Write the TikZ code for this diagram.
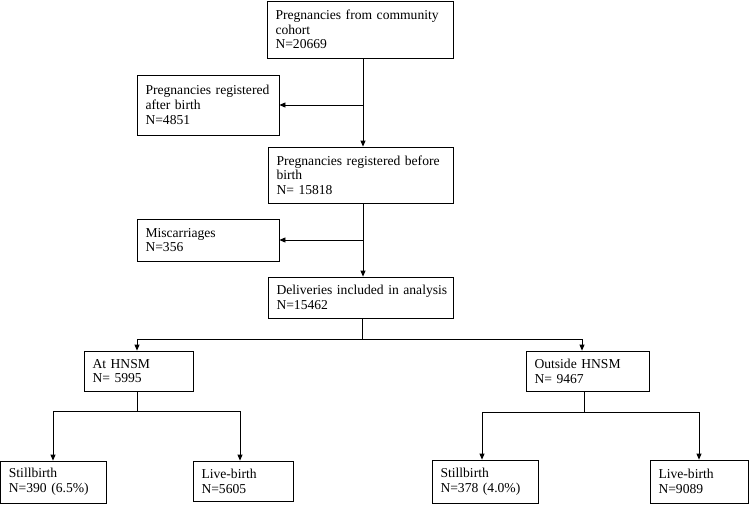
\documentclass[tikz,border=0pt]{standalone}
\usepackage{fontspec}
\setmainfont{Liberation Serif}
\usetikzlibrary{arrows.meta}
\newcommand{\oneline}[1]{\mbox{#1}}
\begin{document}
\begin{tikzpicture}[x=1pt,y=-1pt,
  box/.style={draw, line width=0.8pt, rectangle, inner xsep=8.5pt, inner ysep=0pt,
    align=left, font=\fontsize{13.6}{14.7}\selectfont},
  conn/.style={line width=0.8pt},
  arr/.style={conn, -{Triangle[length=6pt,width=5pt]}}]
\useasboundingbox (0,0) rectangle (750,504);

\node[box, minimum width=186, minimum height=57, text width=169] (top) at (360,29.5)
  {\oneline{Pregnancies from community}\\cohort\\N=20669};
\node[box, minimum width=142, minimum height=60, text width=125] (after) at (208,105)
  {\oneline{Pregnancies registered}\\after birth\\N=4851};
\node[box, minimum width=185, minimum height=56, text width=168] (before) at (360.5,175)
  {\oneline{Pregnancies registered before}\\birth\\N= 15818};
\node[box, minimum width=142, minimum height=42, text width=125] (misc) at (208,240)
  {Miscarriages\\N=356};
\node[box, minimum width=185, minimum height=41, text width=168] (deliv) at (360.5,297.5)
  {\oneline{Deliveries included in analysis}\\N=15462};
\node[box, minimum width=109, minimum height=40, text width=92] (at) at (138.5,371)
  {At HNSM\\N= 5995};
\node[box, minimum width=123, minimum height=40, text width=106] (out) at (587.5,371)
  {\oneline{Outside HNSM}\\N= 9467};
\node[box, minimum width=106, minimum height=42, text width=89] (sb1) at (53.4,482)
  {Stillbirth\\\oneline{N=390 (6.5\%)}};
\node[box, minimum width=100, minimum height=40, text width=83] (lb1) at (243,481)
  {Live-birth\\N=5605};
\node[box, minimum width=106, minimum height=43, text width=89] (sb2) at (485,481.5)
  {Stillbirth\\\oneline{N=378 (4.0\%)}};
\node[box, minimum width=98, minimum height=43, text width=81] (lb2) at (699,481.5)
  {Live-birth\\N=9089};

\coordinate (spine) at (363,0);
\draw[arr] (top.south -| spine) -- (before.north -| spine);
\draw[arr] (after.east -| spine) -- (after.east);
\draw[arr] (before.south -| spine) -- (deliv.north -| spine);
\draw[arr] (misc.east -| spine) -- (misc.east);

\coordinate (b0) at (362,339);
\coordinate (bl) at (137,339);
\coordinate (br) at (582,339);
\draw[conn] (deliv.south -| b0) -- (b0);
\draw[arr] (b0) -- (bl) -- (at.north -| bl);
\draw[arr] (b0) -- (br) -- (out.north -| br);

\coordinate (a0) at (137,411);
\coordinate (al) at (53,411);
\coordinate (ar) at (240,411);
\draw[conn] (at.south -| a0) -- (a0);
\draw[arr] (a0) -- (al) -- (sb1.north -| al);
\draw[arr] (a0) -- (ar) -- (lb1.north -| ar);

\coordinate (o0) at (584,412);
\coordinate (ol) at (482,412);
\coordinate (or) at (699,412);
\draw[conn] (out.south -| o0) -- (o0);
\draw[arr] (o0) -- (ol) -- (sb2.north -| ol);
\draw[arr] (o0) -- (or) -- (lb2.north -| or);
\end{tikzpicture}
\end{document}
